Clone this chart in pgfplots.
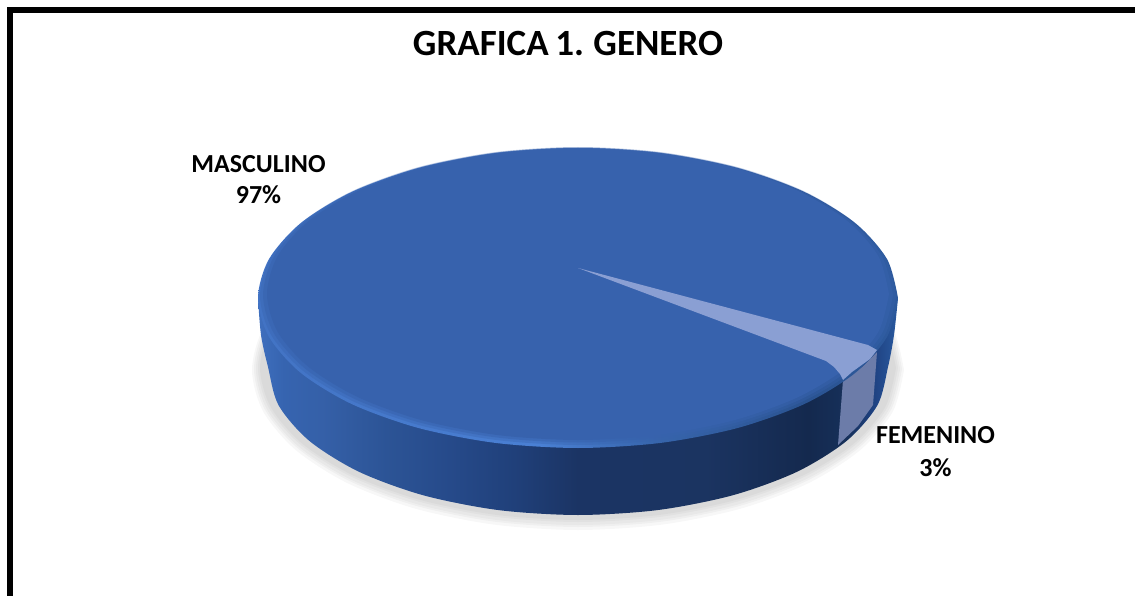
\documentclass[border=0pt]{standalone}
\usepackage{pgfplots}
\usepackage{pgfplotstable}
\usepackage{fontspec}
\setmainfont{Carlito}
\newfontfamily\titlefont[WordSpace=0.8]{Carlito}
\pgfplotsset{compat=1.18}
\definecolor{topblue}{HTML}{3762AD}
\definecolor{slicetop}{HTML}{8A9FD3}
\definecolor{slicewallcol}{HTML}{6C7CA9}
\definecolor{wa}{HTML}{3F6FBE}
\definecolor{wb}{HTML}{3664B0}
\definecolor{wc}{HTML}{3560A8}
\definecolor{wd}{HTML}{2C5496}
\definecolor{we}{HTML}{264A8A}
\definecolor{wf}{HTML}{20407A}
\definecolor{wg}{HTML}{1B3464}
\definecolor{wh}{HTML}{1B3461}
\definecolor{wi}{HTML}{14294E}
\definecolor{wj}{HTML}{16305A}
\definecolor{wk}{HTML}{1E4180}
\definecolor{wl}{HTML}{2A5AA0}
\definecolor{ra}{HTML}{4273C4}
\definecolor{rb}{HTML}{4A80D4}
\definecolor{rc}{HTML}{3765AC}
\definecolor{rd}{HTML}{2A5391}
\definecolor{re}{HTML}{2D5A9E}
\pgfdeclarehorizontalshading{wallshade}{100bp}{
 color(0bp)=(wa);
 color(25bp)=(wa);
 color(27bp)=(wb);
 color(30bp)=(wc);
 color(35bp)=(wd);
 color(40bp)=(we);
 color(45bp)=(wf);
 color(50bp)=(wg);
 color(60bp)=(wh);
 color(68bp)=(wi);
 color(71bp)=(wj);
 color(73bp)=(wk);
 color(75bp)=(wl);
 color(100bp)=(wl)}
\pgfdeclarehorizontalshading{rimshade}{100bp}{
 color(0bp)=(ra);
 color(25bp)=(ra);
 color(47bp)=(rb);
 color(56bp)=(rc);
 color(68bp)=(rd);
 color(75bp)=(re);
 color(100bp)=(re)}
% unit circle, 15 degree steps
\pgfplotstableread{
c s
1 0
0.9659 0.2588
0.8660 0.5
0.7071 0.7071
0.5 0.8660
0.2588 0.9659
0 1
-0.2588 0.9659
-0.5 0.8660
-0.7071 0.7071
-0.8660 0.5
-0.9659 0.2588
-1 0
-0.9659 -0.2588
-0.8660 -0.5
-0.7071 -0.7071
-0.5 -0.8660
-0.2588 -0.9659
0 -1
0.2588 -0.9659
0.5 -0.8660
0.7071 -0.7071
0.8660 -0.5
0.9659 -0.2588
1 0
}\unitcircle
\newcommand{\pieellipse}[5]{% options, cx, cy, rx, ry
 \addplot[draw=none,smooth,#1] table[x expr={#2+#4*\thisrow{c}},y expr={#3+#5*\thisrow{s}}]{\unitcircle};}
\begin{document}
\begin{tikzpicture}
\path[use as bounding box] (0,0) rectangle (1135pt,596pt);
\begin{axis}[
 at={(0,0)},anchor=south west,
 width=1135pt,height=596pt,scale only axis,hide axis,
 xmin=0,xmax=1135,ymin=0,ymax=596,y dir=reverse,clip=true]
% ground shadow
\pieellipse{fill=black,fill opacity=0.03}{578}{370}{326}{160}
\pieellipse{fill=black,fill opacity=0.03}{578}{369}{324}{158}
\pieellipse{fill=black,fill opacity=0.03}{578}{369}{322}{156}
\pieellipse{fill=black,fill opacity=0.03}{578}{368}{320}{154}
\pieellipse{fill=black,fill opacity=0.03}{578}{368}{318}{152}
% side wall silhouette
\addplot[draw=none,smooth,shade,shading=wallshade] coordinates {
 (898,298) (894,335) (888,367) (877.4,405.3) (846.5,441) (797.2,471.7) (733,495.2) (658.2,510) (578,515)
 (497.8,510) (423,495.2) (358.8,471.7) (309.5,441) (278.6,405.3) (268,367) (261,335) (258,298)};
% wall of the small slice
\addplot[draw=none,fill=slicewallcol] coordinates {
 (843,380) (862,367) (877,352) (873,405) (858,426) (838,445)};
% top face with bevel
\pieellipse{shade,shading=rimshade}{578}{298}{320}{150}
\pieellipse{fill=topblue,fill opacity=0.35}{578}{296}{318}{149}
\pieellipse{fill=topblue,fill opacity=0.5}{578}{295}{315}{147.5}
\pieellipse{fill=topblue}{578}{294}{311}{146}
% small slice, top face
\addplot[draw=none,fill=slicetop] coordinates {
 (578,268) (868,345) (877,350) (870,359) (852,372) (843,380) (840,374) (834,367) (826,361)};
\node[font=\titlefont\fontsize{37}{37}\bfseries,anchor=center] at (axis cs:568,43) {GRAFICA 1. GENERO};
\node[font=\fontsize{26}{26}\bfseries,anchor=center] at (axis cs:258.5,164) {MASCULINO};
\node[font=\fontsize{26}{26}\bfseries,anchor=center] at (axis cs:258.5,195) {97\%};
\node[font=\fontsize{26}{26}\bfseries,anchor=center] at (axis cs:935.5,435) {FEMENINO};
\node[font=\fontsize{26}{26}\bfseries,anchor=center] at (axis cs:935.5,468) {3\%};
% frame
\addplot[black,line width=5.5pt,line join=miter] coordinates {(10,604) (10,10) (1145,10)};
\end{axis}
\end{tikzpicture}
\end{document}
